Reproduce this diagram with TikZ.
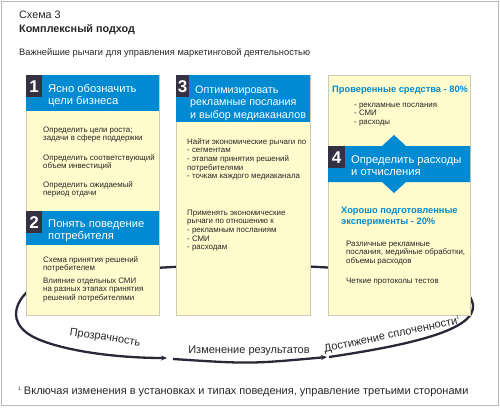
\documentclass[tikz,border=0pt]{standalone}
\usepackage{fontspec}
\setmainfont{Liberation Sans}
\usetikzlibrary{arrows.meta,positioning}

\definecolor{headblue}{RGB}{0,138,210}
\definecolor{numgrey}{RGB}{52,50,66}
\definecolor{paper}{RGB}{255,251,204}
\definecolor{paperline}{RGB}{205,203,180}
\definecolor{loopgrey}{RGB}{40,40,56}
\definecolor{txtgrey}{RGB}{38,38,38}

\begin{document}
\begin{tikzpicture}[x=1pt, y=-1pt, >={Stealth[length=6pt,width=5pt]},
  panel/.style={draw=paperline, fill=paper, anchor=north west, inner sep=0pt},
  headbar/.style={fill=headblue, anchor=north west, inner sep=0pt},
  numbox/.style={fill=numgrey, text=white, anchor=north west, inner sep=0pt,
    minimum width=16pt, minimum height=22pt, font=\fontsize{17}{17}\selectfont\bfseries},
  % base anchor of a multi-line text is its last line
  headtxt/.style={text=white, anchor=base west, align=left, inner sep=0pt,
    font=\fontsize{11.2}{12.6}\selectfont},
  bodytxt/.style={text=txtgrey, anchor=base west, align=left, inner sep=0pt,
    font=\fontsize{7.9}{8.7}\selectfont},
  bluetxt/.style={text=headblue, anchor=base west, align=left, inner sep=0pt,
    font=\fontsize{9.3}{11.4}\selectfont\bfseries},
  looptxt/.style={text=txtgrey, inner sep=0pt, font=\fontsize{11}{13}\selectfont},
  loopline/.style={draw=loopgrey, line width=2.3pt}]
  \useasboundingbox (0,0) rectangle (500,407);
  \draw[black!28] (1,1) rectangle (498,405);

  % titles
  \node[anchor=base west, inner sep=0pt, text=txtgrey, font=\fontsize{10.8}{13}\selectfont] (t1) at (19,18) {Схема 3};
  \node[anchor=base west, inner sep=0pt, text=txtgrey, font=\fontsize{10.8}{13}\selectfont\bfseries] (t2) at (19,32) {Комплексный подход};
  \node[anchor=base west, inner sep=0pt, text=txtgrey, font=\fontsize{9.3}{11}\selectfont] (t3) at (19,55) {Важнейшие рычаги для управления маркетинговой деятельностью};

  % loop behind the panels
  \coordinate (a1) at (329,357);
  \coordinate (b1) at (167,358);
  \coordinate (a2) at (173,359);
  \coordinate (b2) at (327,357);
  \draw[loopline, ->] (a1) .. controls (410,345) and (476,330) .. (473,305)
    .. controls (470,285) and (440,275) .. (400,272)
    .. controls (244,262) .. (60,274)
    .. controls (20,285) and (-5,322) .. (40,340)
    .. controls (70,352) and (120,358) .. (b1);
  \draw[loopline, ->] (a2) .. controls (250,364) .. (b2);

  % panels
  \node[panel, minimum width=133pt, minimum height=240pt] (p1) at (26,75) {};
  \node[panel, minimum width=134pt, minimum height=240pt] (p3) at (176,75) {};
  \node[panel, minimum width=142pt, minimum height=240pt] (p4) at (328,75) {};

  % panel 1
  \node[headbar, minimum width=133pt, minimum height=36pt] (h1) at (p1.north west) {};
  \node[numbox] (n1) at (h1.north west) {1};
  \node[headtxt] (ht1) at (48,104.6) {Ясно обозначить\\цели бизнеса};
  \node[bodytxt] (bt11) at (43,140.7) {Определить цели роста;\\задачи в сфере поддержки};
  \node[bodytxt] (bt12) at (43,168.7) {Определить соответствующий\\объем инвестиций};
  \node[bodytxt] (bt13) at (43,195.7) {Определить ожидаемый\\период отдачи};
  \node[headbar, minimum width=133pt, minimum height=34pt] (h2) at (26,211) {};
  \node[numbox] (n2) at (h2.north west) {2};
  \node[headtxt] (ht2) at (48,239.6) {Понять поведение\\потребителя};
  \node[bodytxt] (bt21) at (43,270.7) {Схема принятия решений\\потребителем};
  \node[bodytxt] (bt22) at (43,300.4) {Влияние отдельных СМИ\\на разных этапах принятия\\решений потребителями};

  % panel 3
  \node[headbar, minimum width=134pt, minimum height=47pt] (h3) at (p3.north west) {};
  \node[numbox, minimum width=13pt] (n3) at (h3.north west) {3};
  \node[headtxt, font=\fontsize{10.75}{12.6}\selectfont] (ht3) at (190,118.2) {\hspace*{5pt}Оптимизировать\\рекламные послания\\и выбор медиаканалов};
  \node[bodytxt] (bt31) at (187,178.8) {Найти экономические рычаги по\\- сегментам\\- этапам принятия решений\\потребителями\\- точкам каждого медиаканала};
  \node[bodytxt] (bt32) at (187,249.8) {Применять экономические\\рычаги по отношению к\\- рекламным посланиям\\- СМИ\\- расходам};

  % panel 4
  \node[bluetxt] (bl41) at (332,92) {Проверенные средства - 80\%};
  \node[bodytxt] (bt41) at (354,124.4) {- рекламные послания\\- СМИ\\- расходы};
  \fill[headblue] (328,146) -- (382,146) -- (394,135) -- (406,146) -- (470,146) -- (470,182)
    -- (406,182) -- (394,193) -- (382,182) -- (328,182) -- cycle;
  \coordinate (h4) at (328,146);
  \node[numbox, minimum width=17pt] (n4) at (h4) {4};
  \node[headtxt] (ht4) at (351,175.6) {Определить расходы\\и отчисления};
  \node[bluetxt] (bl42) at (341,224.4) {Хорошо подготовленные\\эксперименты - 20\%};
  \node[bodytxt] (bt42) at (346,263.4) {Различные рекламные\\послания, медийные обработки,\\объемы расходов};
  \node[bodytxt] (bt43) at (346,283) {Четкие протоколы тестов};

  % loop labels
  \node[looptxt, rotate=-9] (lb1) at (105,338) {Прозрачность};
  \node[looptxt, anchor=base] (lb2) at (249,353) {Изменение результатов};
  \node[looptxt, rotate=12] (lb3) at (392,335) {Достижение сплоченности\raisebox{5pt}{\fontsize{5}{5}\selectfont 1}};

  % footnote
  \node[anchor=base west, inner sep=0pt, text=txtgrey, font=\fontsize{11}{12}\selectfont] (fn) at (18,394)
    {\raisebox{4pt}{\fontsize{5}{5}\selectfont 1}\hspace{3pt}Включая изменения в установках и типах поведения, управление третьими сторонами};
\end{tikzpicture}
\end{document}
